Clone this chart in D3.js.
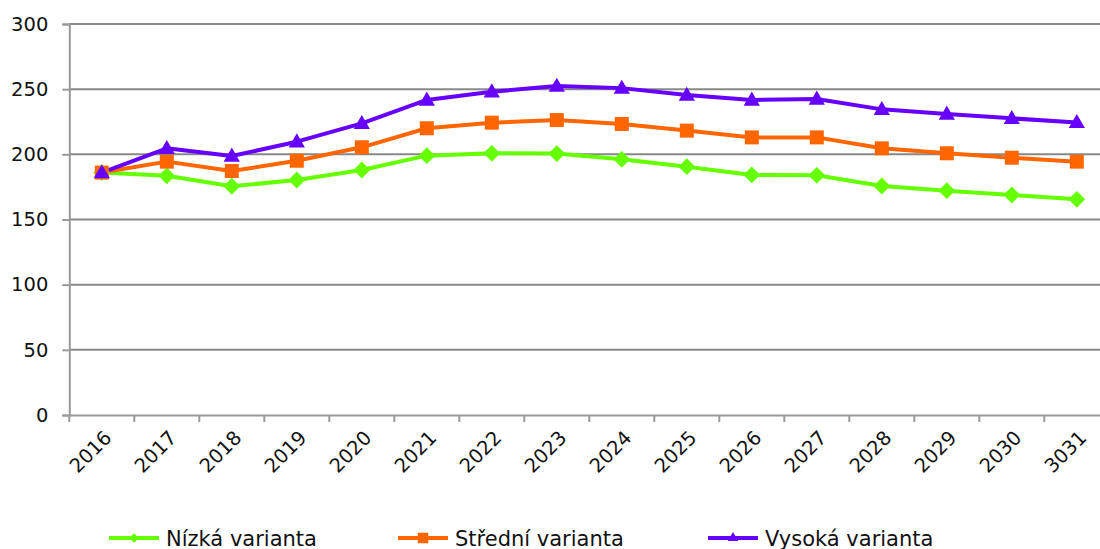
<!DOCTYPE html>
<html>
<head>
<meta charset="utf-8">
<script src="https://cdn.jsdelivr.net/npm/d3@7/dist/d3.min.js"></script>
<style>
  html, body { margin: 0; padding: 0; background: #fff; overflow: hidden; }
  svg { display: block; font-family: "DejaVu Sans", Verdana, sans-serif; }
</style>
</head>
<body>
<svg id="chart" width="1100" height="549"></svg>
<script>
const years = ["2016","2017","2018","2019","2020","2021","2022","2023","2024","2025","2026","2027","2028","2029","2030","3031"];
const nizka   = [186, 183.5, 175.5, 180.3, 188, 199, 200.8, 200.6, 196.2, 190.5, 184.2, 183.9, 175.7, 172.1, 168.8, 165.5];
const stredni = [186, 194.4, 187.2, 195.1, 205.4, 220, 224.3, 226.3, 223.3, 218.2, 213, 213, 204.6, 200.8, 197.4, 194.4];
const vysoka  = [186, 204.6, 198.7, 209.7, 223.8, 241.7, 248, 252.4, 250.8, 245.5, 241.7, 242.5, 234.5, 231, 227.6, 224.5];
const yTicks = [0, 50, 100, 150, 200, 250, 300];
const seriesNames = ["Nízká varianta", "Střední varianta", "Vysoká varianta"];

const series = [
  { name: seriesNames[0], values: nizka,   color: "#66FF00", symbol: d3.symbolDiamond2,  size: 180, lsize: 60 },
  { name: seriesNames[1], values: stredni, color: "#FF6600", symbol: d3.symbolSquare2,   size: 250, lsize: 140 },
  { name: seriesNames[2], values: vysoka,  color: "#6600FF", symbol: d3.symbolTriangle2, size: 190, lsize: 80 }
];

const svg = d3.select("#chart");
const mLeft = 69.3, mRight = 1109.3, mTop = 24, mBottom = 415;
const FONT = '"DejaVu Sans", Verdana, sans-serif';

const x = d3.scaleBand().domain(years).range([mLeft, mRight]).padding(0);
const y = d3.scaleLinear().domain([0, 300]).range([mBottom, mTop]);

// gridlines
svg.append("g").selectAll("line").data(yTicks.filter(t => t > 0)).join("line")
  .attr("x1", mLeft).attr("x2", mRight)
  .attr("y1", d => y(d)).attr("y2", d => y(d))
  .attr("stroke", "#888").attr("stroke-width", 2);

// y axis
const yAxis = svg.append("g").attr("transform", `translate(${mLeft},0)`)
  .call(d3.axisLeft(y).tickValues(yTicks).tickSize(7).tickPadding(14));
yAxis.select(".domain").attr("stroke", "#999").attr("stroke-width", 2);
yAxis.selectAll(".tick line").attr("stroke", "#999").attr("stroke-width", 2);
yAxis.selectAll(".tick text").attr("fill", "#111").style("font-size", "19.5px")
  .style("font-family", FONT);

// x axis
const xAxis = svg.append("g").attr("transform", `translate(0,${mBottom})`)
  .call(d3.axisBottom(x).tickSize(0).tickSizeOuter(0));
xAxis.select(".domain").attr("stroke", "#999").attr("stroke-width", 2);
// tick marks at band boundaries
svg.append("g").selectAll("line").data(years).join("line")
  .attr("x1", d => x(d)).attr("x2", d => x(d))
  .attr("y1", mBottom).attr("y2", mBottom + 7)
  .attr("stroke", "#999").attr("stroke-width", 2);
xAxis.selectAll(".tick text")
  .attr("fill", "#111")
  .style("font-size", "19.5px")
  .style("font-family", FONT)
  .attr("text-anchor", "end")
  .attr("y", 0)
  .attr("dy", "0")
  .attr("transform", "translate(11,24) rotate(-45)");

// lines
const line = d3.line().x((d, i) => x(years[i]) + x.bandwidth() / 2).y(d => y(d));
series.forEach(s => {
  svg.append("path").datum(s.values)
    .attr("d", line).attr("fill", "none")
    .attr("stroke", s.color).attr("stroke-width", 4)
    .attr("stroke-linejoin", "round");
});
// markers
series.forEach(s => {
  svg.append("g").selectAll("path").data(s.values).join("path")
    .attr("transform", (d, i) => `translate(${x(years[i]) + x.bandwidth() / 2},${y(d) + (s.symbol === d3.symbolTriangle2 ? 1 : 0)})`)
    .attr("d", d3.symbol().type(s.symbol).size(s.size))
    .attr("fill", s.color);
});

// legend
const legendX = [109, 398, 708];
const legendY = 538;
series.forEach((s, i) => {
  const g = svg.append("g").attr("transform", `translate(${legendX[i]},${legendY})`);
  g.append("line").attr("x1", 0).attr("x2", 50).attr("y1", 0).attr("y2", 0)
    .attr("stroke", s.color).attr("stroke-width", 4);
  g.append("path").attr("transform", "translate(25,0)")
    .attr("d", d3.symbol().type(s.symbol).size(s.lsize)).attr("fill", s.color);
  g.append("text").attr("x", 57).attr("y", 7.5)
    .attr("fill", "#111").style("font-size", "21px").style("font-family", FONT).text(s.name);
});
</script>
</body>
</html>
